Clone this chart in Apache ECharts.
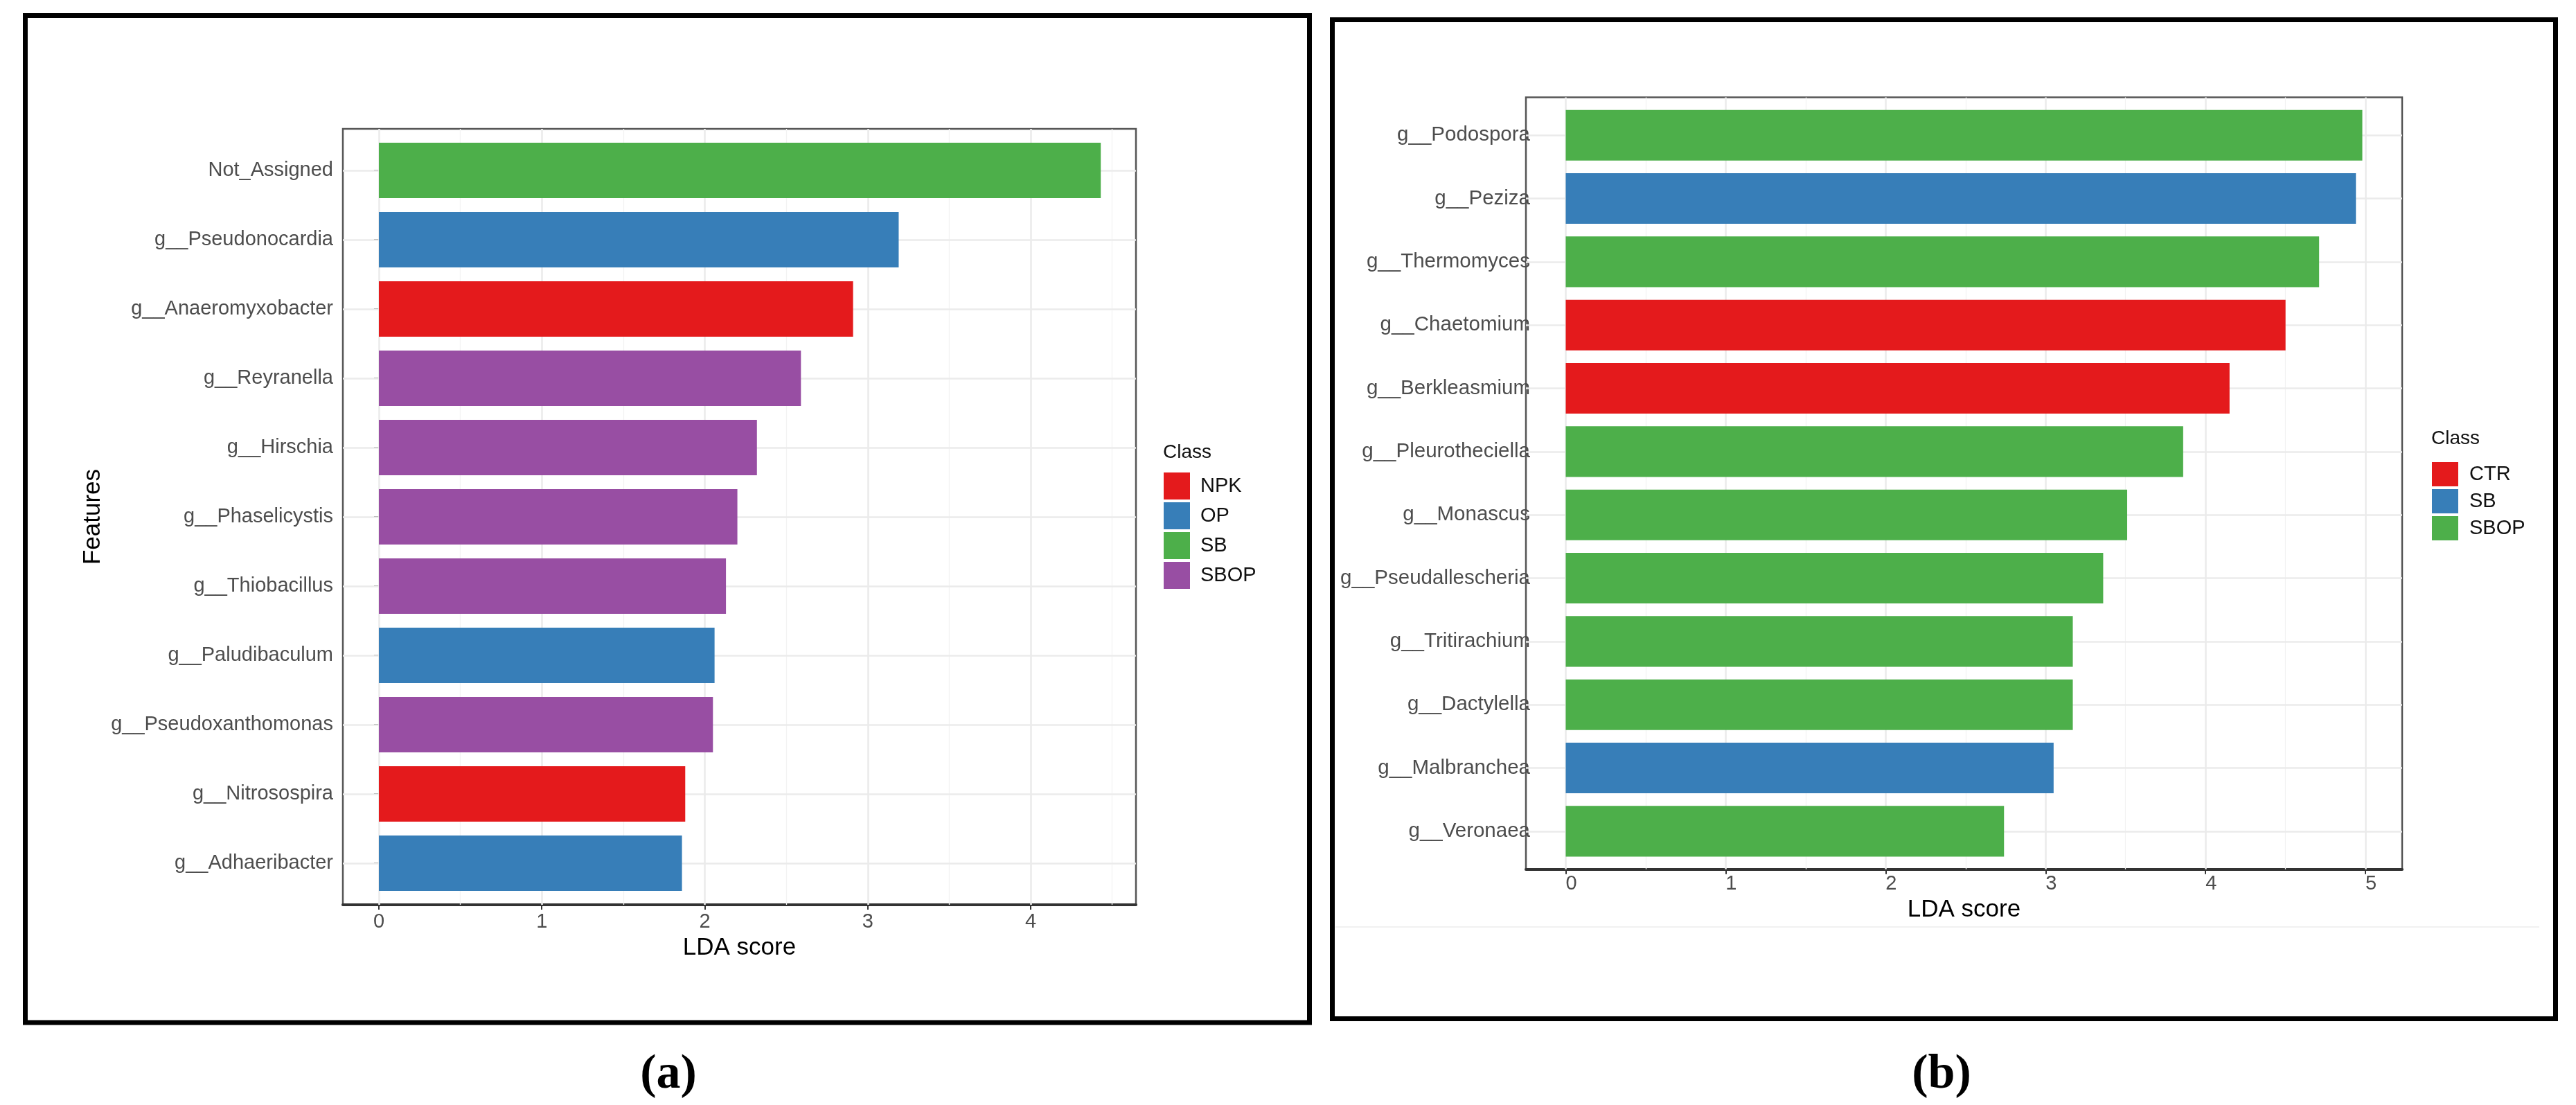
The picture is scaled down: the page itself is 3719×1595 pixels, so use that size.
<!DOCTYPE html>
<html>
<head>
<meta charset="utf-8">
<script src="https://cdn.jsdelivr.net/npm/echarts@6/dist/echarts.min.js"></script>
<style>
html,body{margin:0;padding:0;background:#fff;}
#c{width:3719px;height:1595px;}
</style>
</head>
<body>
<div id="c"></div>
<script>
// ---------- Panel (a) data ----------
const featuresA = ['Not_Assigned','g__Pseudonocardia','g__Anaeromyxobacter','g__Reyranella','g__Hirschia','g__Phaselicystis','g__Thiobacillus','g__Paludibaculum','g__Pseudoxanthomonas','g__Nitrosospira','g__Adhaeribacter'];
const scoresA = [4.43, 3.19, 2.91, 2.59, 2.32, 2.20, 2.13, 2.06, 2.05, 1.88, 1.86];
const classesA = ['SB','OP','NPK','SBOP','SBOP','SBOP','SBOP','OP','SBOP','NPK','OP'];
const classOrderA = ['NPK','OP','SB','SBOP'];
const ticksA = [0,1,2,3,4];
const minorTicksA = [0.5,1.5,2.5,3.5,4.5];

// ---------- Panel (b) data ----------
const featuresB = ['g__Podospora','g__Peziza','g__Thermomyces','g__Chaetomium','g__Berkleasmium','g__Pleurotheciella','g__Monascus','g__Pseudallescheria','g__Tritirachium','g__Dactylella','g__Malbranchea','g__Veronaea'];
const scoresB = [4.98, 4.94, 4.71, 4.50, 4.15, 3.86, 3.51, 3.36, 3.17, 3.17, 3.05, 2.74];
const classesB = ['SBOP','SB','SBOP','CTR','CTR','SBOP','SBOP','SBOP','SBOP','SBOP','SB','SBOP'];
const classOrderB = ['CTR','SB','SBOP'];
const ticksB = [0,1,2,3,4,5];
const minorTicksB = [0.5,1.5,2.5,3.5,4.5];

// ---------- styles ----------
const colorA = {NPK:'#E41A1C', OP:'#377EB8', SB:'#4DAF4A', SBOP:'#984EA3'};
const colorB = {CTR:'#E41A1C', SB:'#377EB8', SBOP:'#4DAF4A'};
const FONT = '"Liberation Sans", Arial, Helvetica, sans-serif';

function renderBar(params, api) {
  const v = api.value(0), idx = api.value(1);
  const p0 = api.coord([0, idx]);
  const p1 = api.coord([v, idx]);
  const h = Math.abs(api.size([0, 0.8])[1]);
  return {
    type: 'rect',
    shape: {x: p0[0], y: p0[1] - h / 2, width: p1[0] - p0[0], height: h},
    style: api.style()
  };
}

function barSeries(prefix, features, scores, classes, order, colors, axisIdx) {
  return order.map(cls => ({
    type: 'custom',
    name: prefix + cls,
    xAxisIndex: axisIdx, yAxisIndex: axisIdx,
    renderItem: renderBar,
    encode: {x: 0, y: 1},
    itemStyle: {color: colors[cls]},
    z: 10,
    silent: true,
    data: features.map((f, i) => [scores[i], i + 1, classes[i]]).filter(d => d[2] === cls).map(d => [d[0], d[1]])
  }));
}

function gridSeries(axisIdx, ticks, minor, n) {
  const data = [];
  minor.forEach(t => data.push({xAxis: t, lineStyle: {color: '#F3F3F3', width: 1.3, type: 'solid'}}));
  ticks.forEach(t => data.push({xAxis: t, lineStyle: {color: '#EBEBEB', width: 2.6, type: 'solid'}}));
  for (let i = 1; i <= n; i++) data.push({yAxis: i, lineStyle: {color: '#EBEBEB', width: 2.6, type: 'solid'}});
  return {
    type: 'line', name: 'grid' + axisIdx, data: [],
    xAxisIndex: axisIdx, yAxisIndex: axisIdx, z: 1, silent: true,
    markLine: {silent: true, z: 1, symbol: ['none','none'], label: {show: false}, animation: false, data: data}
  };
}

function xAxisCfg(idx, min, max, ticks, labelMargin, nameGap, labelPad) {
  return {
    type: 'value', gridIndex: idx, min: min, max: max,
    name: 'LDA score', nameLocation: 'middle', nameGap: nameGap,
    nameTextStyle: {fontSize: 35, color: '#000', fontFamily: FONT},
    axisLine: {show: true, lineStyle: {color: '#333', width: 4}},
    axisTick: {show: true, customValues: ticks, length: 7, lineStyle: {color: '#333', width: 2}},
    axisLabel: {show: true, customValues: ticks, margin: labelMargin, fontSize: 29, color: '#4D4D4D', fontFamily: FONT, padding: labelPad},
    splitLine: {show: false}, minorSplitLine: {show: false}
  };
}

function yAxisCfg(idx, features, showTick, margin, fs) {
  const vals = features.map((f, i) => i + 1);
  return {
    type: 'value', gridIndex: idx, inverse: true, min: 0.4, max: features.length + 0.6,
    axisLine: {show: false},
    axisTick: {show: showTick, customValues: vals, length: 7, lineStyle: {color: '#333', width: 2}},
    axisLabel: {show: true, customValues: vals, margin: margin, fontSize: fs, color: '#4D4D4D', fontFamily: FONT,
      formatter: v => features[Math.round(v) - 1]},
    splitLine: {show: false}
  };
}

const chart = echarts.init(document.getElementById('c'), null, {renderer: 'canvas'});
const option = {
  backgroundColor: '#ffffff',
  animation: false,
  grid: [
    {left: 495, top: 186, width: 1145, height: 1120, show: true, borderColor: '#555', borderWidth: 2.5, backgroundColor: 'transparent'},
    {left: 2203, top: 140.4, width: 1265, height: 1114.3, show: true, borderColor: '#555', borderWidth: 2.5, backgroundColor: 'transparent'}
  ],
  xAxis: [
    xAxisCfg(0, -0.221, 4.646, ticksA, 10, 45, 0),
    xAxisCfg(1, -0.249, 5.229, ticksB, 7, 37, [0, 0, 0, 16])
  ],
  yAxis: [
    yAxisCfg(0, featuresA, true, 14, 29),
    yAxisCfg(1, featuresB, false, -6, 29.5)
  ],
  legend: [
    {
      orient: 'vertical', left: 1680, top: 682, padding: 0,
      itemWidth: 38, itemHeight: 39, itemGap: 4, icon: 'rect', selectedMode: false,
      data: classOrderA.map(c => 'a:' + c),
      formatter: n => n.split(':')[1],
      textStyle: {fontSize: 29, color: '#111', fontFamily: FONT, padding: [0, 0, 0, 10]}
    },
    {
      orient: 'vertical', left: 3511, top: 667, padding: 0,
      itemWidth: 38, itemHeight: 35, itemGap: 4, icon: 'rect', selectedMode: false,
      data: classOrderB.map(c => 'b:' + c),
      formatter: n => n.split(':')[1],
      textStyle: {fontSize: 29, color: '#111', fontFamily: FONT, padding: [0, 0, 0, 11]}
    }
  ],
  series: [].concat(
    [gridSeries(0, ticksA, minorTicksA, featuresA.length), gridSeries(1, ticksB, minorTicksB, featuresB.length)],
    barSeries('a:', featuresA, scoresA, classesA, classOrderA, colorA, 0),
    barSeries('b:', featuresB, scoresB, classesB, classOrderB, colorB, 1)
  ),
  graphic: [
    {type: 'rect', shape: {x: 36.5, y: 22.5, width: 1854, height: 1453.5}, style: {fill: 'none', stroke: '#000', lineWidth: 7}, z: 100, silent: true},
    {type: 'rect', shape: {x: 1923.5, y: 28.5, width: 1766, height: 1442}, style: {fill: 'none', stroke: '#000', lineWidth: 7}, z: 100, silent: true},
    {type: 'line', shape: {x1: 1928, y1: 1338, x2: 3666, y2: 1338}, style: {stroke: '#F1F1F1', lineWidth: 2}, z: 0, silent: true},
    {type: 'text', x: 134, y: 746, rotation: Math.PI / 2, silent: true,
      style: {text: 'Features', fontSize: 35, fontFamily: FONT, fill: '#000', textAlign: 'center', textVerticalAlign: 'middle'}},
    {type: 'text', x: 1679, y: 653, silent: true,
      style: {text: 'Class', fontSize: 28, fontFamily: FONT, fill: '#111', textAlign: 'left', textVerticalAlign: 'middle'}},
    {type: 'text', x: 3510, y: 633, silent: true,
      style: {text: 'Class', fontSize: 28, fontFamily: FONT, fill: '#111', textAlign: 'left', textVerticalAlign: 'middle'}},
    {type: 'text', x: 965, y: 1552, silent: true,
      style: {text: '(a)', fontSize: 70, fontWeight: 'bold', fontFamily: '"Liberation Serif", "Times New Roman", serif', fill: '#000', textAlign: 'center', textVerticalAlign: 'middle'}},
    {type: 'text', x: 2803, y: 1552, silent: true,
      style: {text: '(b)', fontSize: 70, fontWeight: 'bold', fontFamily: '"Liberation Serif", "Times New Roman", serif', fill: '#000', textAlign: 'center', textVerticalAlign: 'middle'}}
  ]
};
chart.setOption(option);
</script>
</body>
</html>
